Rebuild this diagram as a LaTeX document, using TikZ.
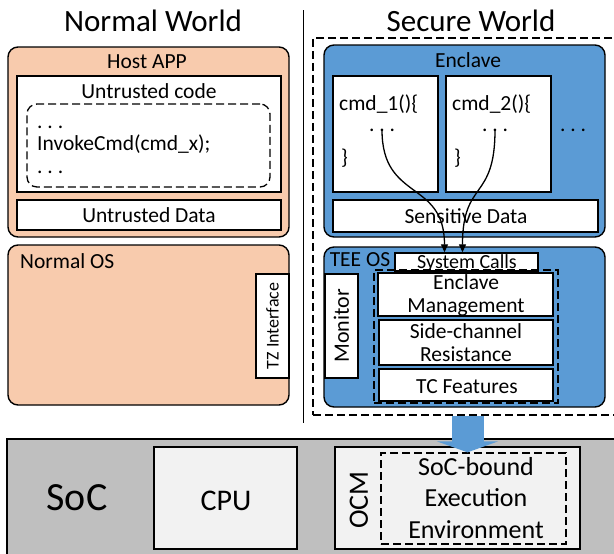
\documentclass[tikz,border=0pt]{standalone}
\usepackage{fontspec}
\setmainfont{Carlito}
\usetikzlibrary{positioning,fit,arrows.meta}
\definecolor{peach}{HTML}{F8CBAD}
\definecolor{teeblue}{HTML}{5B9BD5}
\definecolor{socgray}{HTML}{BFBFBF}
\definecolor{chipfill}{HTML}{F2F2F2}
\tikzset{
  % --- containers ---
  area/.style={draw=black, line width=1.4pt, inner sep=0pt},
  normalbox/.style={area, rounded corners=10pt, fill=peach},
  securebox/.style={area, rounded corners=10pt, fill=teeblue},
  plainbox/.style={area, fill=white},
  chipbox/.style={area, fill=chipfill},
  dashbox/.style={draw=black, line width=1.3pt, dash pattern=on 8pt off 4pt,
                  inner sep=0pt},
  % --- text ---
  txt/.style={font=\fontsize{21.5}{22.5}\selectfont, inner sep=0pt, align=center},
  title/.style={font=\fontsize{31}{34}\selectfont, inner sep=0pt},
  % --- connectors ---
  call/.style={line width=1.3pt, -{Triangle[length=8pt,width=7pt]}},
  bigarrow/.style={teeblue, line width=32pt, -{Triangle[length=11pt,width=61pt]}},
}
\begin{document}
\begin{tikzpicture}[x=1pt, y=-1pt]
  \useasboundingbox (0,0) rectangle (614,554);
  % titles and divider
  \node[title, anchor=base] (nwtitle) at (153,31) {Normal World};
  \node[title, anchor=base] (swtitle) at (471,31) {Secure World};
  \coordinate (divtop) at (303,10);
  \coordinate (divbot) at (303,423);
  \draw[line width=1pt] (divtop) -- (divbot);

  % normal world
  \node[normalbox, fit={(8,47) (289,237)}] (host) {};
  \node[txt, anchor=base] (hostlbl) at (147,68) {Host APP};
  \node[plainbox, fit={(17,76) (281,192)}] (ucode) {};
  \node[txt, anchor=base] (ucodelbl) at (149,98) {Untrusted code};
  \node[dashbox, rounded corners=10pt, fit={(27,104) (270,187)}] (codedash) {};
  \node[txt, anchor=base west, align=left] (code) at (37,173)
        {.~.~.\\InvokeCmd(cmd\_x);\\.~.~.};
  \node[plainbox, fit={(17,200) (281,230)}] (udata) {};
  \node[txt, anchor=base] (udatalbl) at (149,222) {Untrusted Data};
  \node[normalbox, fit={(8,245) (289,405)}] (nos) {};
  \node[txt, anchor=base west] (noslbl) at (20,268) {Normal OS};
  \node[plainbox, fit={(256,274) (289,378)}] (tz) {};
  \node[txt, font=\fontsize{18}{20}\selectfont, rotate=90] (tzlbl) at (tz.center)
        {TZ Interface};

  % secure world
  \node[dashbox, line width=1.5pt, fit={(313,38) (622,415)}] (secure) {};
  \node[securebox, fit={(324,45) (605,237)}] (enclave) {};
  \node[txt, anchor=base] (enclavelbl) at (468,67) {Enclave};
  \node[plainbox, fit={(333,76) (438,192)}] (cmdA) {};
  \node[plainbox, fit={(446,76) (551,192)}] (cmdB) {};
  \node[txt, anchor=base west] (cmdAhead) at (339,110) {cmd\_1()\{};
  \node[txt, anchor=base] (dotsA) at (382,131) {.~.~.};
  \node[txt, anchor=base west] (cmdAend) at (341,164) {\}};
  \node[txt, anchor=base west] (cmdBhead) at (452,110) {cmd\_2()\{};
  \node[txt, anchor=base] (dotsB) at (495,131) {.~.~.};
  \node[txt, anchor=base west] (cmdBend) at (454,164) {\}};
  \node[txt, anchor=base] (dotsC) at (573,131) {.~.~.};
  \node[plainbox, fit={(333,200) (598,232)}] (sdata) {};
  \node[txt, anchor=base] (sdatalbl) at (466,223) {Sensitive Data};

  \node[securebox, fit={(324,247) (605,407)}] (teeos) {};
  \node[txt, anchor=base] (teeoslbl) at (360,266) {TEE OS};
  \node[plainbox, fit={(395,253) (538,271)}] (syscalls) {};
  \node[txt, font=\fontsize{20}{22}\selectfont, anchor=base] (syscallslbl)
        at (467,268) {System Calls};
  \node[plainbox, fit={(325,274) (358,378)}] (monitor) {};
  \node[txt, font=\fontsize{22}{24}\selectfont, rotate=90] (monitorlbl)
        at (monitor.center) {Monitor};
  \node[dashbox, fit={(374,270) (558,403)}] (osdash) {};
  \node[plainbox, fit={(378,273) (553,316)}] (emgmt) {};
  \node[txt, anchor=base] (emgmtlbl) at (466,312) {Enclave\\Management};
  \node[plainbox, fit={(379,320) (553,365)}] (sidech) {};
  \node[txt, anchor=base] (sidechlbl) at (466,361) {Side-channel\\Resistance};
  \node[plainbox, fit={(379,369) (553,401)}] (tcfeat) {};
  \node[txt, anchor=base] (tcfeatlbl) at (467,393) {TC Features};

  % SoC
  \node[area, fill=socgray, fit={(7,439) (622,562)}] (soc) {};
  \node[txt, font=\fontsize{40}{44}\selectfont, anchor=base] (soclbl) at (77,510) {SoC};
  \node[chipbox, fit={(154,447) (297,549)}] (cpu) {};
  \node[txt, font=\fontsize{30}{34}\selectfont, anchor=base] (cpulbl) at (226,510) {CPU};
  \node[chipbox, fit={(335,447) (580,549)}] (ocm) {};
  \node[txt, font=\fontsize{28}{30}\selectfont, rotate=90] (ocmlbl) at (359,500) {OCM};
  \node[dashbox, fit={(381,453) (566,544)}] (sebe) {};
  \node[txt, font=\fontsize{26}{31.5}\selectfont, anchor=base] (sebelbl) at (476,538)
        {SoC-bound\\Execution\\Environment};

  % calls into the TEE OS
  \draw[call] (dotsA.center) .. controls +(0,72) and +(0,-73) .. ([xshift=-22pt]syscalls.north);
  \draw[call] (dotsB.center) .. controls +(0,72) and +(0,-73) .. ([xshift=-4pt]syscalls.north);
  % secure world is bound to the SoC
  \draw[bigarrow] (secure.south) -- (secure.south |- sebe.north);
\end{tikzpicture}
\end{document}
